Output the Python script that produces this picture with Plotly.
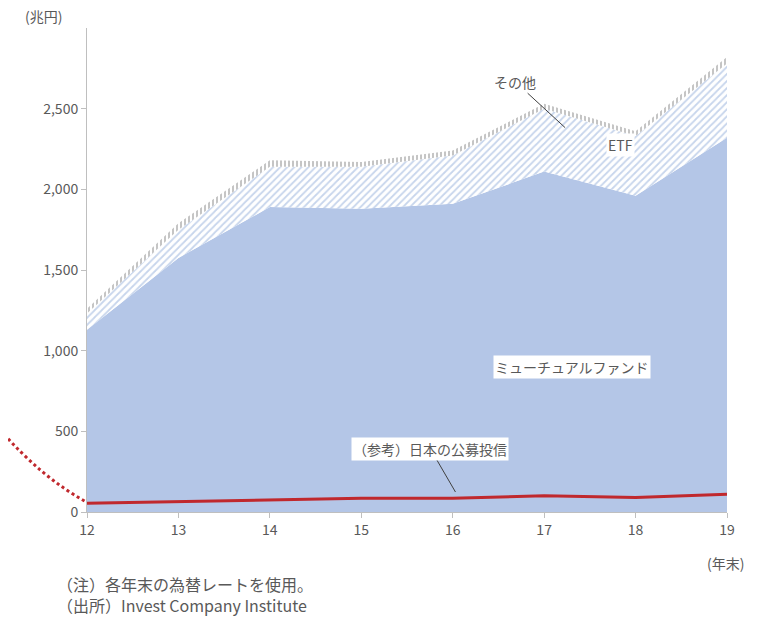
import plotly.graph_objects as go

years = [12, 13, 14, 15, 16, 17, 18, 19]
mutual_fund = [1130, 1575, 1890, 1880, 1910, 2110, 1960, 2320]
etf = [100, 175, 250, 260, 300, 390, 370, 460]
other = [30, 40, 40, 30, 30, 30, 30, 40]
japan = [55, 65, 75, 85, 85, 100, 90, 110]

FONT = "Noto Sans CJK JP"
GREY = "#595959"

fig = go.Figure()
fig.add_trace(go.Scatter(x=years, y=mutual_fund, stackgroup="a", mode="lines",
                         line=dict(width=0), fillcolor="#b4c6e7", name="ミューチュアルファンド"))
fig.add_trace(go.Scatter(x=years, y=etf, stackgroup="a", mode="lines",
                         line=dict(width=0), fillcolor="#b4c6e7", name="ETF",
                         fillpattern=dict(shape="/", bgcolor="white", fgcolor="#8fabd9",
                                          size=5, solidity=0.35)))
fig.add_trace(go.Scatter(x=years, y=other, stackgroup="a", mode="lines",
                         line=dict(width=0), fillcolor="#a6a6a6", name="その他",
                         fillpattern=dict(shape="|", bgcolor="white", fgcolor="#8c8c8c",
                                          size=4, solidity=0.5)))
fig.add_trace(go.Scatter(x=years, y=japan, mode="lines",
                         line=dict(color="#c0282d", width=3), name="日本"))

# decorative dotted red curve on the left
fig.add_shape(type="path", xref="paper", yref="paper",
              path="M -0.136 0.17 Q -0.07 0.07 0 0.02",
              line=dict(color="#c0282d", width=3, dash="dot"))

box = dict(bgcolor="white", font=dict(size=14, color=GREY, family=FONT))
fig.add_annotation(x=17.3, y=900, text="ミューチュアルファンド", showarrow=False, **box)
fig.add_annotation(x=17.83, y=2277, text="ETF", showarrow=False, **box)
fig.add_annotation(x=17.23, y=2382, text="その他", showarrow=True, arrowhead=0,
                   arrowcolor="#404040", arrowwidth=1, ax=-50, ay=-46,
                   font=dict(size=14, color=GREY, family=FONT))
fig.add_annotation(x=16.03, y=124, text="（参考）日本の公募投信", showarrow=True,
                   arrowhead=0, arrowcolor="#404040", arrowwidth=1, ax=-25, ay=-43, **box)

fig.add_annotation(xref="paper", yref="paper", x=-0.1, y=1.0, yanchor="bottom",
                   text="(兆円)", showarrow=False, font=dict(size=14, color=GREY, family=FONT))
fig.add_annotation(xref="paper", yref="paper", x=1.03, y=-0.08, yanchor="top",
                   text="(年末)", showarrow=False, font=dict(size=14, color=GREY, family=FONT))
fig.add_annotation(xref="paper", yref="paper", x=-0.05, y=-0.12, xanchor="left",
                   yanchor="top", align="left", showarrow=False,
                   text="（注）各年末の為替レートを使用。<br>（出所）Invest Company Institute",
                   font=dict(size=16, color=GREY, family=FONT))

# page body adds an 8px offset, so margins are shifted accordingly
fig.update_layout(
    width=768, height=623, showlegend=False,
    plot_bgcolor="white", paper_bgcolor="white",
    margin=dict(l=79, r=49, t=20, b=119),
    font=dict(family=FONT, color=GREY, size=14),
    xaxis=dict(range=[12, 19], tickvals=years, showline=True, linecolor="#bfbfbf",
               ticks="outside", tickcolor="#bfbfbf", showgrid=False, zeroline=False),
    yaxis=dict(range=[0, 3000], tickvals=[0, 500, 1000, 1500, 2000, 2500],
               tickformat=",", showline=True, linecolor="#bfbfbf", ticks="outside",
               tickcolor="#bfbfbf", showgrid=False, zeroline=False),
)
fig.write_html("out.html")
